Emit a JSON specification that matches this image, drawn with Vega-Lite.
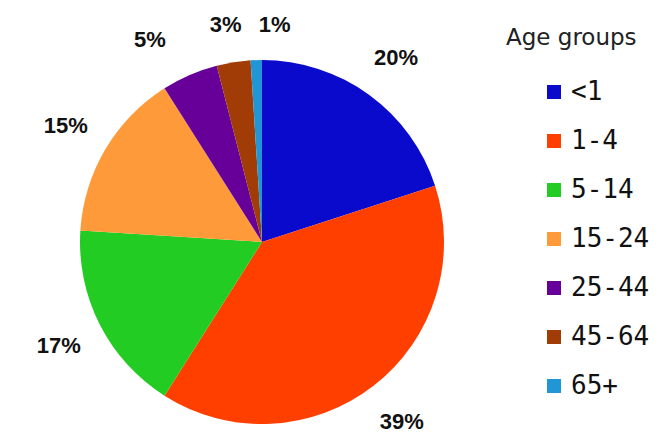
{
  "$schema": "https://vega.github.io/schema/vega-lite/v6.json",
  "width": 524,
  "height": 386,
  "padding": {"top": 49, "left": 0, "right": 135, "bottom": 0},
  "autosize": {"type": "none"},
  "background": "white",
  "data": {
    "values": [
      {"group": "<1", "pct": 20, "rank": 1, "label": "20%"},
      {"group": "1-4", "pct": 39, "rank": 2, "label": "39%"},
      {"group": "5-14", "pct": 17, "rank": 3, "label": "17%"},
      {"group": "15-24", "pct": 15, "rank": 4, "label": "15%"},
      {"group": "25-44", "pct": 5, "rank": 5, "label": "5%"},
      {"group": "45-64", "pct": 3, "rank": 6, "label": "3%"},
      {"group": "65+", "pct": 1, "rank": 7, "label": "1%"}
    ]
  },
  "encoding": {
    "theta": {"field": "pct", "type": "quantitative", "stack": true},
    "order": {"field": "rank", "type": "quantitative"}
  },
  "layer": [
    {
      "mark": {"type": "arc", "outerRadius": 182, "stroke": null},
      "encoding": {
        "color": {
          "field": "group",
          "type": "nominal",
          "sort": ["<1", "1-4", "5-14", "15-24", "25-44", "45-64", "65+"],
          "scale": {
            "domain": ["<1", "1-4", "5-14", "15-24", "25-44", "45-64", "65+"],
            "range": ["#0a0acc", "#ff3f00", "#22cc22", "#ff9a3a", "#660099", "#a23c06", "#2196d6"]
          },
          "legend": {
            "title": "Age groups",
            "orient": "none",
            "legendX": 506,
            "legendY": -22,
            "symbolOffset": 35,
            "symbolType": "square",
            "symbolSize": 196,
            "symbolStrokeWidth": 0,
            "titleFont": "DejaVu Sans",
            "titleFontSize": 23,
            "titleFontWeight": "normal",
            "titleColor": "#222",
            "titleBaseline": "top",
            "titlePadding": 29,
            "labelFont": "DejaVu Sans Mono",
            "labelFontSize": 26,
            "labelColor": "#111",
            "labelOffset": 4,
            "rowPadding": 23,
            "labelLimit": 200
          }
        }
      }
    },
    {
      "mark": {"type": "text", "radius": 228, "font": "Liberation Sans", "fontWeight": "bold", "fontSize": 22, "color": "#111"},
      "encoding": {"text": {"condition": {"test": "datum.rank <= 4", "field": "label"}, "value": ""}}
    },
    {
      "mark": {"type": "text", "radius": 232, "dx": -20, "dy": 11, "font": "Liberation Sans", "fontWeight": "bold", "fontSize": 22, "color": "#111"},
      "encoding": {"text": {"condition": {"test": "datum.rank == 5", "field": "label"}, "value": ""}}
    },
    {
      "mark": {"type": "text", "radius": 232, "dx": 0, "dy": 12, "font": "Liberation Sans", "fontWeight": "bold", "fontSize": 22, "color": "#111"},
      "encoding": {"text": {"condition": {"test": "datum.rank == 6", "field": "label"}, "value": ""}}
    },
    {
      "mark": {"type": "text", "radius": 232, "dx": 20, "dy": 15, "font": "Liberation Sans", "fontWeight": "bold", "fontSize": 22, "color": "#111"},
      "encoding": {"text": {"condition": {"test": "datum.rank == 7", "field": "label"}, "value": ""}}
    }
  ]
}
